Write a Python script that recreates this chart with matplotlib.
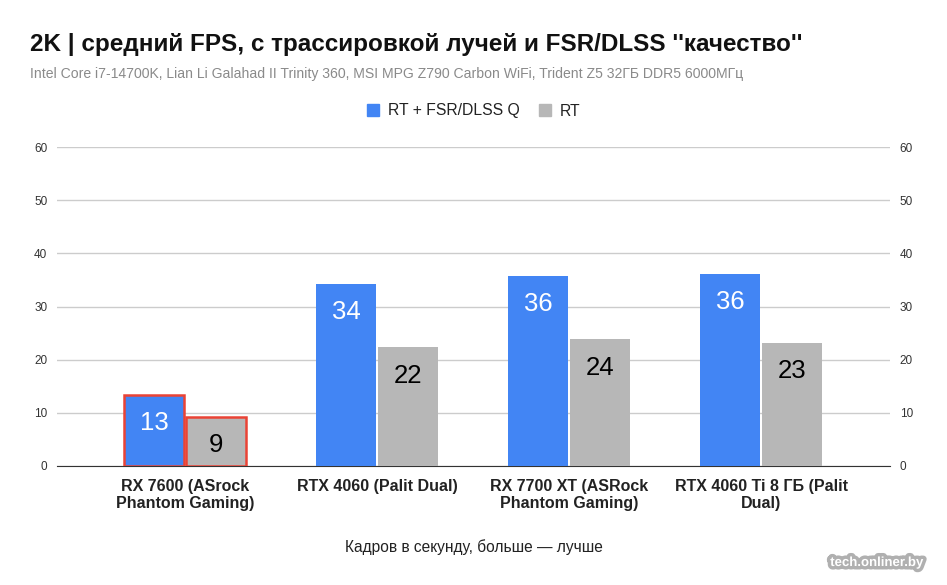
import matplotlib
matplotlib.use("Agg")
import matplotlib.pyplot as plt
import matplotlib.patheffects as pe
from matplotlib.patches import Patch
import numpy as np

plt.rcParams['font.family'] = ['Liberation Sans', 'DejaVu Sans']

categories = ["RX 7600 (ASrock\nPhantom Gaming)", "RTX 4060 (Palit Dual)",
              "RX 7700 XT (ASRock\nPhantom Gaming)", "RTX 4060 Ti 8 ГБ (Palit\nDual)"]
rt_fsr = [13.4, 34.3, 35.8, 36.2]
rt = [9.2, 22.3, 23.8, 23.2]
series_names = ["RT + FSR/DLSS Q", "RT"]
yticks = [0, 10, 20, 30, 40, 50, 60]

blue = "#4285f4"
gray = "#b7b7b7"
red = "#ea4335"

fig = plt.figure(figsize=(9.47, 5.85), dpi=100)
ax = fig.add_axes([57/947, (585-466)/585, (890-57)/947, (466-147)/585])

x = np.arange(len(categories))
w = 0.3125
off = 0.1615
b1 = ax.bar(x - off, rt_fsr, w, color=blue, zorder=3)
b2 = ax.bar(x + off, rt, w, color=gray, zorder=3)
for b in (b1[0], b2[0]):
    b.set_edgecolor(red)
    b.set_linewidth(1.8)

for bars, vals, col in ((b1, rt_fsr, "white"), (b2, rt, "black")):
    for bar, v in zip(bars, vals):
        ax.text(bar.get_x() + bar.get_width()/2, v - 5.3, f"{round(v)}",
                ha="center", va="center", fontsize=18.5, color=col, zorder=4)

ax.set_xlim(-0.667, 3.67)
ax.set_ylim(0, 60)
ax.set_yticks(yticks)
ax.set_yticklabels([str(t) for t in yticks])
ax.grid(axis="y", color="#cccccc", linewidth=1, zorder=0)
for s in ("top", "left", "right"):
    ax.spines[s].set_visible(False)
ax.spines["bottom"].set_color("#333333")
ax.tick_params(axis="y", length=0, labelsize=8.5, labelcolor="#333333", pad=7,
               labelright=True, right=False)
ax.tick_params(axis="x", length=0, pad=9)
ax.set_xticks(x)
ax.set_xticklabels(categories, fontsize=11.5, fontweight="bold", color="#222222")

fig.text(30/947, 1-45/585, "2K | средний FPS, с трассировкой лучей и FSR/DLSS ''качество''",
         fontsize=17.5, fontweight="bold", color="#111111", va="center", ha="left")
fig.text(30/947, 1-74/585,
         "Intel Core i7-14700K, Lian Li Galahad II Trinity 360, MSI MPG Z790 Carbon WiFi, Trident Z5 32ГБ DDR5 6000МГц",
         fontsize=10.1, color="#8a8a8a", va="center", ha="left")

handles = [Patch(color=blue), Patch(color=gray)]
fig.legend(handles, series_names, loc="center", bbox_to_anchor=(474/947, 1-111/585),
           ncol=2, frameon=False, fontsize=11.3, handlelength=0.75, handleheight=0.75,
           handletextpad=0.6, columnspacing=1.2, labelcolor="#222222")

fig.text(474/947, 1-547/585, "Кадров в секунду, больше — лучше", fontsize=11.2,
         color="#222222", ha="center", va="center")

fig.text(877/947, 1-563/585, "tech.onliner.by", fontsize=9.5, fontweight="bold",
         color="white", ha="center", va="center",
         path_effects=[pe.withStroke(linewidth=5, foreground="#b0b0b0")])

fig.savefig("out.png", dpi=100)
